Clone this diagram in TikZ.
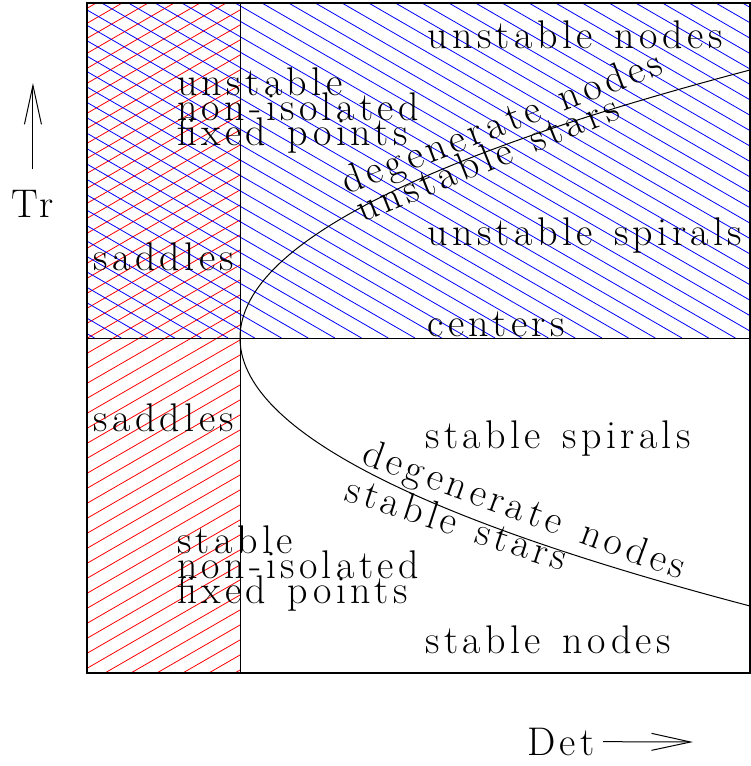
\documentclass[tikz,border=0pt]{standalone}
\usepackage{fontspec}
\setmainfont{Latin Modern Roman}[LetterSpace=11, WordSpace=1.3]
\usetikzlibrary{arrows.meta}
\newcommand\lblfont{\fontsize{20}{12.5}\selectfont\lineskiplimit -100pt\relax}

\begin{document}
\begin{tikzpicture}[x=255pt, y=67pt,
    >={Straight Barb[length=19.5pt,width=8.5pt]},
    font=\lblfont,
    lbl/.style={anchor=base west, inner sep=0pt},
    hatch/.style={line width=0.4pt},
    thin line/.style={line width=0.5pt}]
    \useasboundingbox (-0.4706,-3.194) rectangle (1,2.5224);
    \def\dmin{-0.3}
    \def\dmax{1}
    \def\tmax{2.5}

    % 红色阴影 (Det<0)
    \begin{scope}
        \clip (\dmin,-\tmax) rectangle (0,\tmax);
        \foreach \k in {-30,...,22}
            \draw[red, hatch] ([yshift=-\k*7.5pt]\dmin,-0.786) -- ++(30:100pt);
    \end{scope}
    % 蓝色阴影 (Tr>0)
    \begin{scope}
        \clip (\dmin,0) rectangle (\dmax,\tmax);
        \foreach \k in {-13,...,35}
            \draw[blue, hatch] ([xshift=\k*13.35pt]0.343,0) -- ++(150:350pt);
    \end{scope}

    % 边框与轴线
    \draw[line width=0.7pt] (\dmin,-\tmax) rectangle (\dmax,\tmax);
    \draw[thin line] (\dmin,0) -- (\dmax,0);
    \draw[thin line] (0,-\tmax) -- (0,\tmax);
    % 抛物线 Det = Tr^2/4
    \draw[thin line] plot[domain=-2:2, samples=120] ({\x*\x/4},\x);

    % 区域标签
    \node[lbl] (unstnodes) at (0.367,2.164) {unstable nodes};
    \node[lbl] (unstspirals) at (0.367,0.694) {unstable spirals};
    \node[lbl] (centers) at (0.367,0.011) {centers};
    \node[lbl] (stspirals) at (0.363,-0.821) {stable spirals};
    \node[lbl] (stnodes) at (0.363,-2.351) {stable nodes};
    \node[lbl] (saddleup) at (-0.288,0.507) {saddles};
    \node[lbl] (saddledown) at (-0.288,-0.701) {saddles};
    \node[lbl, align=left] (nonisoup) at (-0.124,1.440)
        {unstable\\non-isolated\\fixed points};
    \node[lbl, align=left] (nonisodown) at (-0.124,-1.978)
        {stable\\non-isolated\\fixed points};

    % 沿抛物线的标签
    \node[lbl, rotate=21] (degenup) at (0.210,1.067) {degenerate nodes};
    \node[lbl, rotate=22] (starsup) at (0.239,0.858) {unstable stars};
    \node[lbl, rotate=-20] (degendown) at (0.235,-0.933) {degenerate nodes};
    \node[lbl, rotate=-18] (starsdown) at (0.202,-1.209) {stable stars};

    % 坐标轴说明
    \node[anchor=base, inner xsep=0pt, inner ysep=10pt] (tr) at (-0.406,0.903) {Tr};
    \coordinate (trtip) at (-0.406,1.903);
    \draw[->, thin line] (tr) -- (trtip);
    \node[anchor=base east, inner xsep=4pt, inner ysep=0pt] (det) at (0.712,-3.112) {Det};
    \coordinate (dettip) at (0.888,-3.015);
    \draw[->, thin line] (det) -- (dettip);
\end{tikzpicture}
\end{document}
